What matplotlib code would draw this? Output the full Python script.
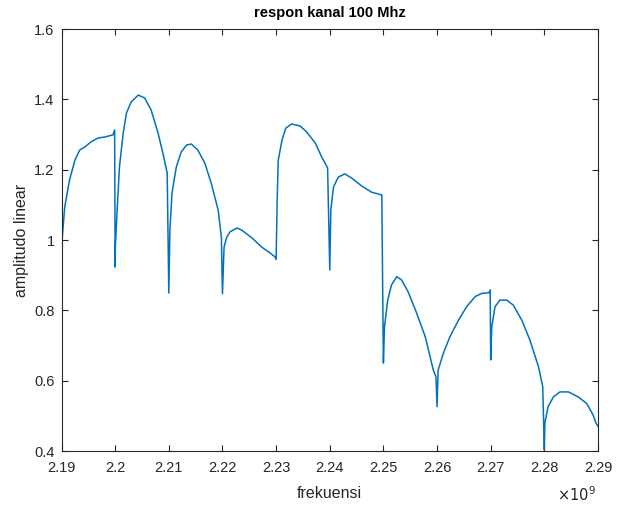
import matplotlib
matplotlib.use("Agg")
import matplotlib.pyplot as plt

plt.rcParams['font.family'] = ['Liberation Sans', 'DejaVu Sans']

# frequency in units of 1e9 Hz, linear amplitude of the channel response
freq = [
    2.1900, 2.1901, 2.1906, 2.1915, 2.1925, 2.1934, 2.1943, 2.1955, 2.1968, 2.1981, 2.1996, 2.1999,
    2.2000, 2.20003, 2.2004, 2.2008, 2.2015, 2.2021, 2.2030, 2.2043, 2.2055, 2.2067, 2.2080, 2.2089, 2.2097,
    2.2100, 2.2102, 2.2106, 2.2114, 2.2123, 2.2133, 2.2142, 2.2154, 2.2167, 2.2179, 2.2192, 2.2198,
    2.2200, 2.2203, 2.2208, 2.2214, 2.2227, 2.2236, 2.2255, 2.2273, 2.2289, 2.2298,
    2.2300, 2.2302, 2.2304, 2.2311, 2.2318, 2.2329, 2.2345, 2.2357, 2.2373, 2.2385, 2.2396,
    2.2400, 2.2402, 2.2407, 2.2416, 2.2428, 2.2441, 2.2460, 2.2478, 2.2497,
    2.2500, 2.2502, 2.2508, 2.2515, 2.2525, 2.2534, 2.2546, 2.2562, 2.2578, 2.2593, 2.2598,
    2.2600, 2.2602, 2.2612, 2.2624, 2.2640, 2.2655, 2.2671, 2.2683, 2.2697, 2.2699,
    2.2700, 2.2702, 2.2708, 2.2717, 2.2730, 2.2742, 2.2758, 2.2773, 2.2789, 2.2797,
    2.2800, 2.2801, 2.2807, 2.2817, 2.2829, 2.2845, 2.2863, 2.2879, 2.2891, 2.2896, 2.2900,
]
amp = [
    0.878, 1.000, 1.094, 1.171, 1.227, 1.256, 1.264, 1.279, 1.290, 1.293, 1.299, 1.313,
    0.923, 0.980, 1.094, 1.208, 1.304, 1.361, 1.393, 1.412, 1.404, 1.370, 1.304, 1.247, 1.190,
    0.849, 1.028, 1.134, 1.208, 1.250, 1.270, 1.273, 1.256, 1.219, 1.162, 1.085, 1.008,
    0.847, 0.980, 1.008, 1.023, 1.034, 1.028, 1.006, 0.980, 0.963, 0.952,
    0.945, 1.114, 1.227, 1.284, 1.318, 1.330, 1.324, 1.307, 1.276, 1.236, 1.205,
    0.915, 1.085, 1.151, 1.179, 1.188, 1.176, 1.153, 1.136, 1.128,
    0.650, 0.753, 0.829, 0.872, 0.896, 0.886, 0.853, 0.792, 0.725, 0.630, 0.611,
    0.526, 0.630, 0.679, 0.725, 0.772, 0.810, 0.839, 0.848, 0.850, 0.858,
    0.659, 0.753, 0.810, 0.829, 0.829, 0.815, 0.772, 0.716, 0.640, 0.583,
    0.403, 0.480, 0.526, 0.554, 0.568, 0.568, 0.554, 0.535, 0.502, 0.480, 0.470,
]

x_ticks = [2.19, 2.20, 2.21, 2.22, 2.23, 2.24, 2.25, 2.26, 2.27, 2.28, 2.29]
x_tick_labels = ["2.19", "2.2", "2.21", "2.22", "2.23", "2.24", "2.25", "2.26", "2.27", "2.28", "2.29"]
y_ticks = [0.4, 0.6, 0.8, 1.0, 1.2, 1.4, 1.6]
y_tick_labels = ["0.4", "0.6", "0.8", "1", "1.2", "1.4", "1.6"]

fig = plt.figure(figsize=(6.17, 5.08), dpi=100)
ax = fig.add_axes([0.0997, 0.1122, 0.8695, 0.8307])
ax.plot(freq, amp, color="#0072BD", linewidth=1.1)

ax.set_xlim(2.19, 2.29)
ax.set_ylim(0.4, 1.6)
ax.set_xticks(x_ticks)
ax.set_xticklabels(x_tick_labels)
ax.set_yticks(y_ticks)
ax.set_yticklabels(y_tick_labels)

axis_col = "#262626"
for s in ax.spines.values():
    s.set_color(axis_col)
    s.set_linewidth(0.8)
ax.tick_params(direction="in", length=4, width=0.8, top=True, right=True,
               colors=axis_col, labelsize=10.5, labelcolor=axis_col)
ax.tick_params(axis="x", pad=7)
ax.tick_params(axis="y", pad=5)

ax.set_title("respon kanal 100 Mhz", fontsize=10.5, fontweight="bold", color="black", pad=9)
ax.set_xlabel("frekuensi", fontsize=11.5, color=axis_col, labelpad=8)
ax.set_ylabel("amplitudo linear", fontsize=11.5, color=axis_col, labelpad=4)
fig.text(0.965, 0.008, r"$\times10^9$", fontsize=10.5, color=axis_col, ha="right", va="bottom")

fig.savefig("out.png", dpi=100)
